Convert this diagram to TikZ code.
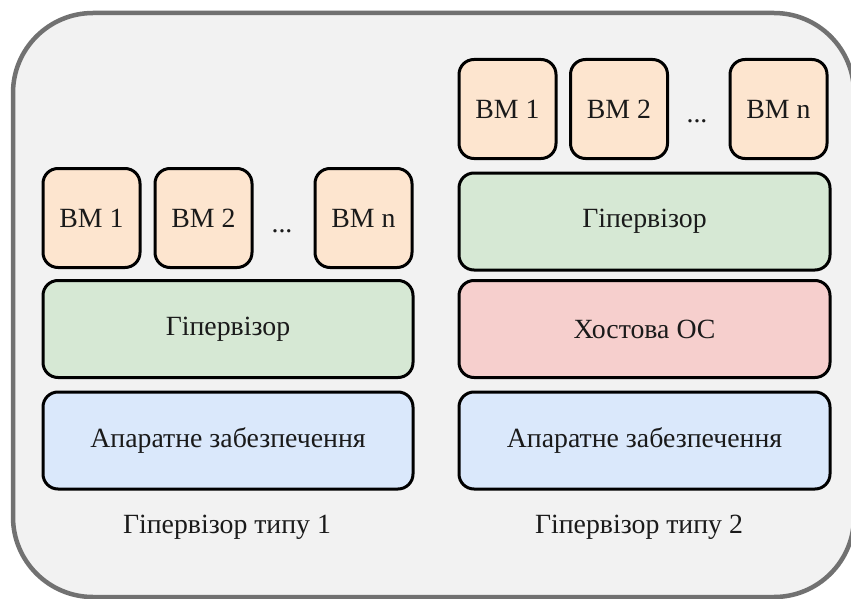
\documentclass[tikz,border=0pt]{standalone}
\usepackage{fontspec}
\setmainfont{Liberation Serif}
\begin{document}
\definecolor{framegray}{HTML}{717171}
\definecolor{panelbg}{HTML}{F2F2F2}
\definecolor{vmfill}{HTML}{FDE5CF}
\definecolor{hypfill}{HTML}{D6E8D4}
\definecolor{osfill}{HTML}{F6CFCD}
\definecolor{hwfill}{HTML}{DAE8FB}
\definecolor{inktext}{HTML}{1A1A1A}
\begin{tikzpicture}[x=1pt,y=1pt,
  every node/.style={font=\fontsize{27.8}{32}\selectfont, text=inktext},
  layer/.style={draw=black, line width=3pt, rounded corners=15pt,
                minimum height=97pt, inner sep=0pt},
  vmbox/.style={layer, fill=vmfill, minimum width=97pt, minimum height=99pt},
  widebox/.style={layer, minimum width=370pt},
  dotsmark/.style={anchor=base, inner sep=0pt}]
  \useasboundingbox (0,0) rectangle (851,-599);
  \fill[white] (0,0) rectangle (851,-599);
  % outer panel
  \draw[draw=framegray, line width=4.5pt, fill=panelbg, rounded corners=80pt]
    (13,-13) rectangle (854,-597);

  % ---- type 1 hypervisor stack ----
  \node[vmbox] (l-vm1) at (91.5,-218) {BM 1};
  \node[vmbox] (l-vm2) at (203.5,-218) {BM 2};
  \node[dotsmark] (l-dots) at (282,-232) {...};
  \node[vmbox] (l-vmn) at (363.5,-218) {BM n};
  \node[widebox, fill=hypfill] (l-hyp) at (228,-329) {Гіпервізор};
  \node[widebox, fill=hwfill] (l-hw) at (228,-440.5) {Апаратне забезпечення};
  \node (l-cap) at (227,-527) {Гіпервізор типу 1};

  % ---- type 2 hypervisor stack ----
  \node[vmbox] (r-vm1) at (507.5,-109) {BM 1};
  \node[vmbox] (r-vm2) at (619,-109) {BM 2};
  \node[dotsmark] (r-dots) at (697,-123) {...};
  \node[vmbox] (r-vmn) at (778.5,-109) {BM n};
  \node[widebox, fill=hypfill, minimum width=371pt] (r-hyp) at (644.5,-221.5) {Гіпервізор};
  \node[widebox, fill=osfill, minimum width=371pt] (r-os) at (644.5,-329) {Хостова ОС};
  \node[widebox, fill=hwfill, minimum width=371pt] (r-hw) at (644.5,-440.5) {Апаратне забезпечення};
  \node (r-cap) at (639,-527) {Гіпервізор типу 2};
\end{tikzpicture}
\end{document}
